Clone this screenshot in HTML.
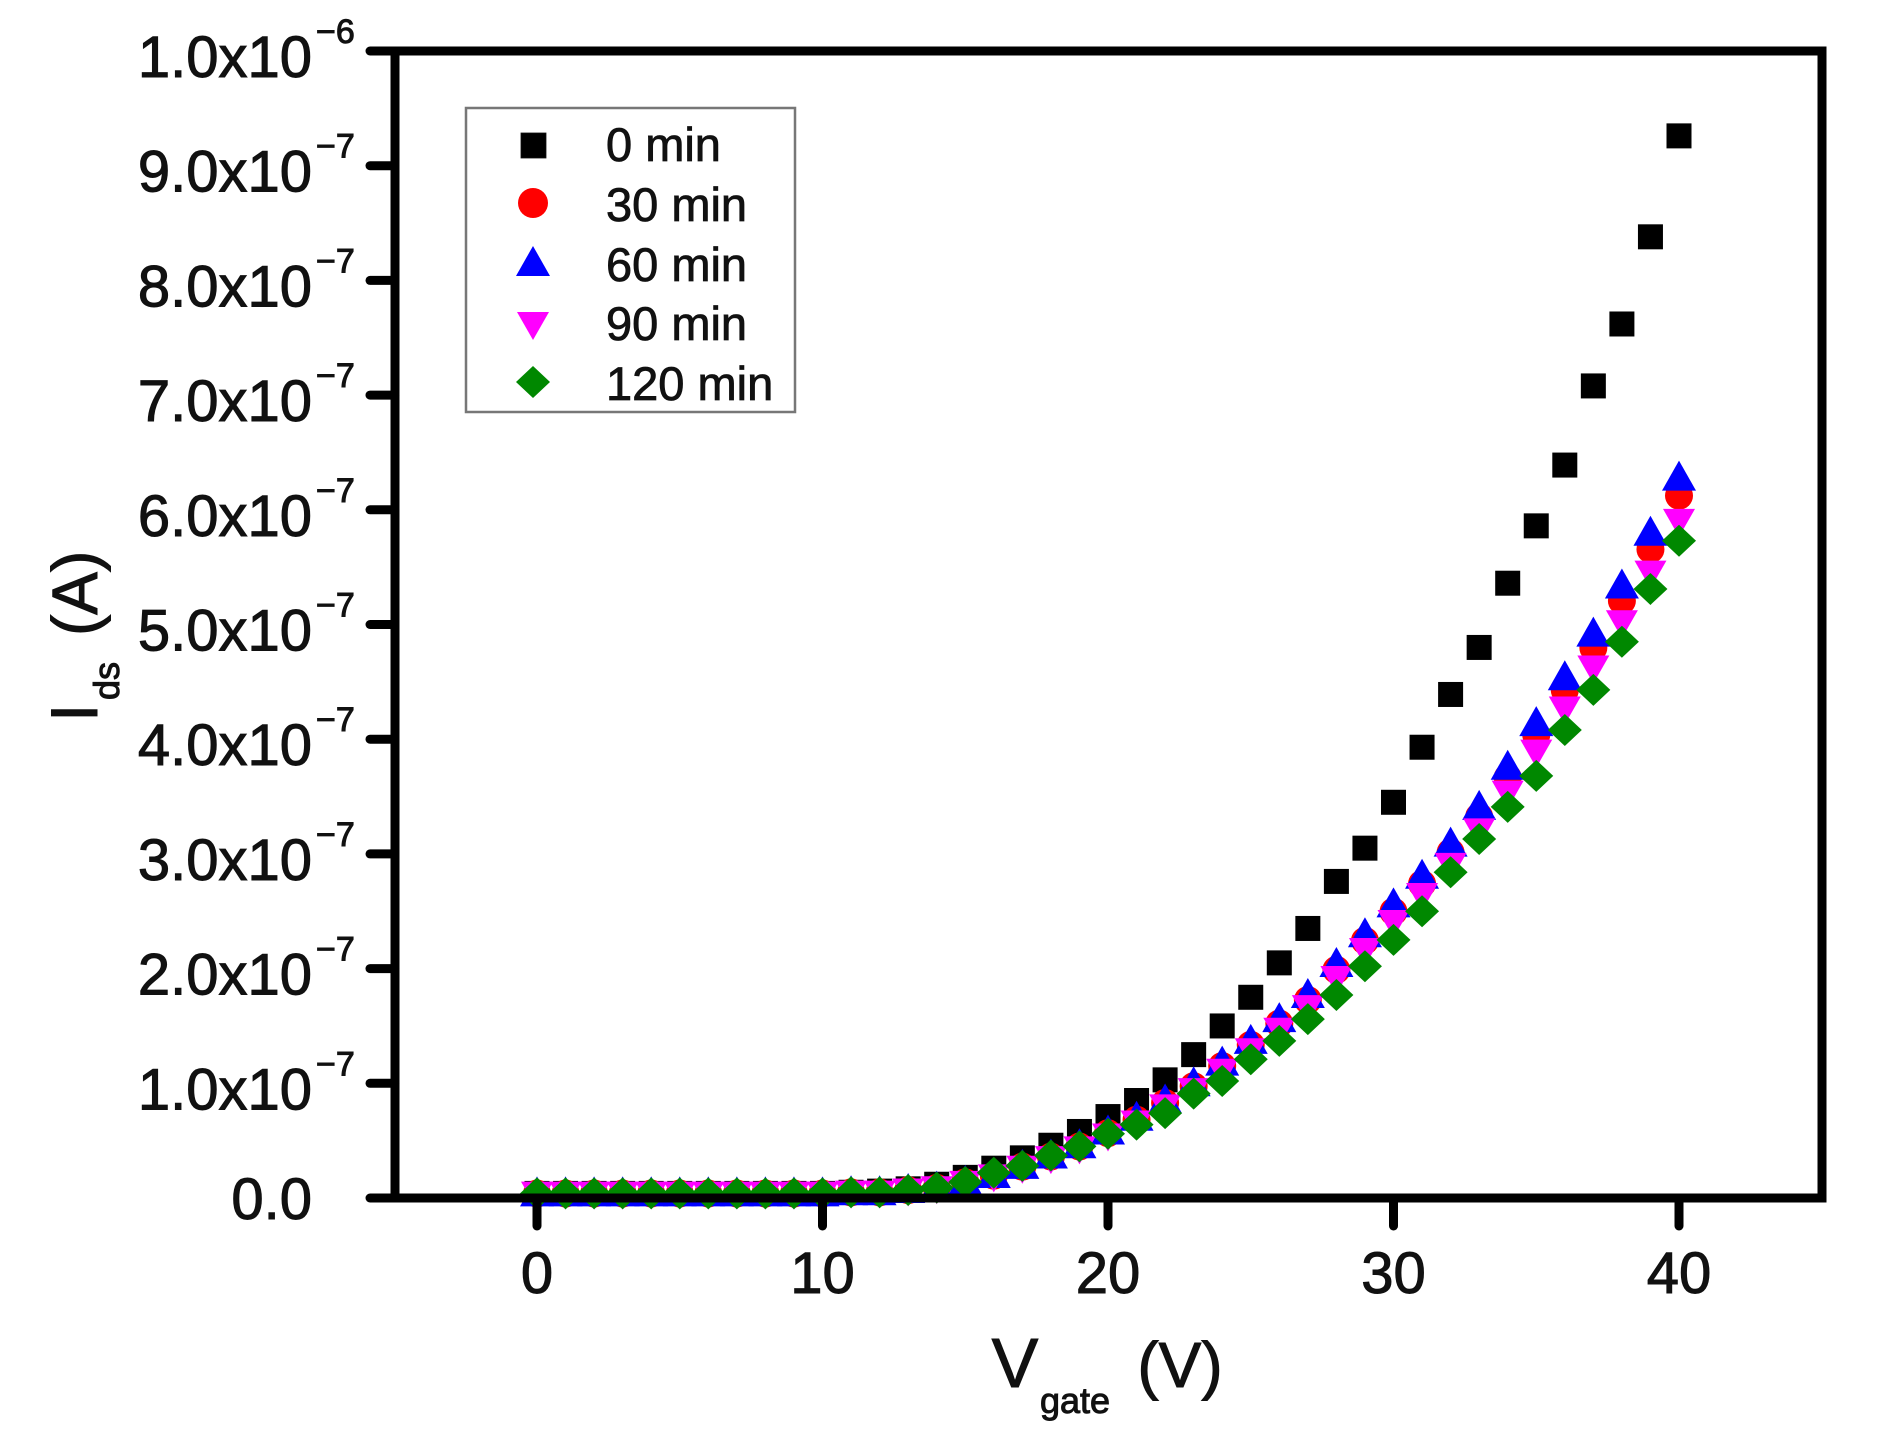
<!DOCTYPE html>
<html><head><meta charset="utf-8"><style>
html,body{margin:0;padding:0;background:#fff;}
svg{display:block;font-family:"Liberation Sans","Noto Sans CJK JP",sans-serif;}
</style></head><body>
<svg id="s" width="1884" height="1432" viewBox="0 0 1884 1432" xmlns="http://www.w3.org/2000/svg">
<g id="pts"></g>
<rect x="395" y="51" width="1427" height="1147" fill="none" stroke="#000" stroke-width="9"/>
<g id="ax" stroke="#000" stroke-width="9" stroke-linecap="round"></g>
<g id="lab" font-size="58" fill="#111" stroke="#111" stroke-width="1"></g>
<g fill="#111" stroke="#111" stroke-width="1">
<text x="1015" y="1387" font-size="70" text-anchor="middle">V</text>
<text x="1075" y="1413" font-size="36" text-anchor="middle">gate</text>
<text x="1180" y="1387" font-size="64" text-anchor="middle">(V)</text>
<g transform="translate(97,0) rotate(-90)">
<text x="-722" y="0" font-size="66">I</text>
<text x="-700" y="22" font-size="36">ds</text>
<text x="-636" y="0" font-size="64">(A)</text>
</g>
</g>
<rect x="466" y="108" width="329" height="304" fill="#fff" stroke="#777" stroke-width="2.5"/>
<g font-size="47" fill="#111" stroke="#111" stroke-width="0.8">
<rect x="521" y="133" width="25" height="25" fill="#000"/>
<text x="606" y="161">0 min</text>
<circle cx="533" cy="203" r="15" fill="#f00" stroke="none"/>
<text x="606" y="221">30 min</text>
<polygon points="533,246 550,276 516,276" fill="#00f" stroke="none"/>
<text x="606" y="281">60 min</text>
<polygon points="517,312 549,312 533,340" fill="#f0f" stroke="none"/>
<text x="606" y="340">90 min</text>
<polygon points="533,366 550,382 533,398 516,382" fill="#080" stroke="none"/>
<text x="606" y="400">120 min</text>
</g>
</svg>
<script>
var NS="http://www.w3.org/2000/svg";
function X(v){return 537+v*28.55;}
function el(p,t,a){var e=document.createElementNS(NS,t);for(var k in a)e.setAttribute(k,a[k]);p.appendChild(e);return e;}
var ax=document.getElementById('ax'),lab=document.getElementById('lab');
for(var v=0;v<=40;v+=10){el(ax,'line',{x1:X(v),y1:1198,x2:X(v),y2:1226});
 var t=el(lab,'text',{x:X(v),y:1293,'text-anchor':'middle'});t.textContent=v;}
for(var i=0;i<=10;i++){var y=1198-i*114.7;el(ax,'line',{x1:370,y1:y,x2:395,y2:y});
 if(i==0){var t=el(lab,'text',{x:312,y:y+21,'text-anchor':'end'});t.textContent='0.0';}
 else{var m=i==10?'1.0':(i+'.0');var t=el(lab,'text',{x:312,y:y+26,'text-anchor':'end'});t.textContent=m+'x10';
  var e=el(lab,'text',{x:316,y:y-8,'font-size':'34'});e.textContent=i==10?'\u22126':'\u22127';}}
var blk={40:.926,39:.838,38:.762,37:.708,36:.639,35:.586,34:.536,33:.48,32:.439,31:.393,30:.345,29:.305,28:.276,27:.235,26:.205,25:.175,24:.15,23:.125,22:.103,21:.085,20:.071,19:.058,18:.046,17:.035,16:.026,15:.018,14:.012,13:.008,12:.006,11:.005};
var blu={40:.628,39:.58,38:.534,37:.492,36:.454,35:.414,34:.376,33:.341,32:.309,31:.281,30:.256,29:.23,28:.204,27:.177,26:.156,25:.137,24:.118,23:.1,22:.085,21:.07,20:.058,19:.046,18:.037,17:.028,16:.02,15:.014,14:.009,13:.007,12:.005,11:.005};
var grn={40:.573,39:.531,38:.485,37:.443,36:.408,35:.368,34:.341,33:.313,32:.284,31:.25,30:.225,29:.202,28:.177,27:.156,26:.137,25:.121,24:.102,23:.091,22:.074,21:.064,20:.056,19:.045,18:.037,17:.028,16:.022,15:.014,14:.009,13:.007,12:.005,11:.005};
function g(o,v){return (o[v]!==undefined?o[v]:0.004);}
var P=document.getElementById('pts');
for(var v=0;v<=40;v++){var x=X(v),y=1198-g(blk,v)*1147;el(P,'rect',{x:x-12.5,y:y-12.5,width:25,height:25,fill:'#000'});}
for(var v=0;v<=40;v++){var val=g(blu,v)*0.975,x=X(v),y=1198-val*1147;el(P,'circle',{cx:x,cy:y,r:14,fill:'#f00'});}
for(var v=0;v<=40;v++){var x=X(v),y=1198-g(blu,v)*1147;el(P,'polygon',{points:(x)+','+(y-17)+' '+(x+17)+','+(y+13)+' '+(x-17)+','+(y+13),fill:'#00f'});}
for(var v=0;v<=40;v++){var val=g(blu,v)*0.94,x=X(v),y=1198-val*1147;el(P,'polygon',{points:(x-16)+','+(y-12)+' '+(x+16)+','+(y-12)+' '+x+','+(y+16),fill:'#f0f'});}
for(var v=0;v<=40;v++){var x=X(v),y=1198-g(grn,v)*1147;el(P,'polygon',{points:x+','+(y-16)+' '+(x+17)+','+y+' '+x+','+(y+16)+' '+(x-17)+','+y,fill:'#080'});}
</script>
</body></html>
